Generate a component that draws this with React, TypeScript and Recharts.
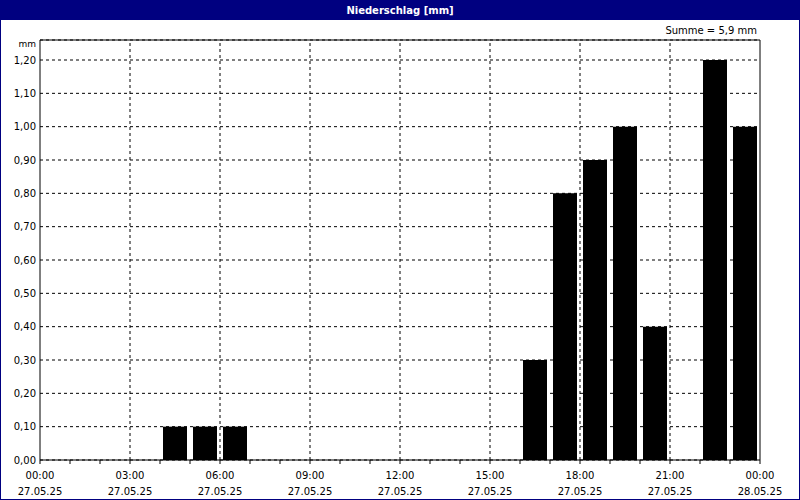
import React from "react";
import { BarChart, Bar, XAxis, YAxis, CartesianGrid, ReferenceLine } from "recharts";

const hours = [0, 1, 2, 3, 4, 5, 6, 7, 8, 9, 10, 11, 12, 13, 14, 15, 16, 17, 18, 19, 20, 21, 22, 23];
const rain = [0, 0, 0, 0, 0.1, 0.1, 0.1, 0, 0, 0, 0, 0, 0, 0, 0, 0, 0.3, 0.8, 0.9, 1.0, 0.4, 0, 1.2, 1.0];
const xTicks = [0, 1, 2, 3, 4, 5, 6, 7, 8, 9, 10, 11, 12, 13, 14, 15, 16, 17, 18, 19, 20, 21, 22, 23, 24];
const xLabelTicks = [0, 3, 6, 9, 12, 15, 18, 21, 24];
const xTimeLabels = ["00:00", "03:00", "06:00", "09:00", "12:00", "15:00", "18:00", "21:00", "00:00"];
const xDateLabels = ["27.05.25", "27.05.25", "27.05.25", "27.05.25", "27.05.25", "27.05.25", "27.05.25", "27.05.25", "28.05.25"];
const yTicks = [0, 0.1, 0.2, 0.3, 0.4, 0.5, 0.6, 0.7, 0.8, 0.9, 1.0, 1.1, 1.2];
const gridX = [3, 6, 9, 12, 15, 18, 21];
const title = "Niederschlag [mm]";
const sumLabel = "Summe = 5,9 mm";
const unitLabel = "mm";

const data = hours.map((h, i) => ({ x: h + 0.5, v: rain[i] }));

const FONT = "'DejaVu Sans', sans-serif";

const XTick = (props: any) => {
  const { x, y, payload } = props;
  const idx = xLabelTicks.indexOf(payload.value);
  if (idx < 0) return null;
  return (
    <g>
      <text x={x} y={y + 13} textAnchor="middle" fontSize={10} fontFamily={FONT} fill="#000">
        {xTimeLabels[idx]}
      </text>
      <text x={x} y={y + 29} textAnchor="middle" fontSize={10} fontFamily={FONT} fill="#000">
        {xDateLabels[idx]}
      </text>
    </g>
  );
};

export default function App() {
  return (
    <div
      style={{
        position: "absolute",
        left: 0,
        top: 0,
        width: 800,
        height: 500,
        boxSizing: "border-box",
        border: "1px solid #000080",
        background: "#fff",
        overflow: "hidden",
      }}
    >
      <div style={{ position: "absolute", left: 0, top: 0 }}>
        <BarChart
          width={798}
          height={498}
          data={data}
          margin={{ top: 39, right: 39, left: 0, bottom: 0 }}
        >
          <CartesianGrid horizontal vertical={false} stroke="#000" strokeDasharray="3 3" />
          {gridX.map((g) => (
            <ReferenceLine key={g} x={g} stroke="#000" strokeDasharray="3 3" />
          ))}
          <ReferenceLine y={1.26} stroke="#000" />
          <ReferenceLine x={24} stroke="#000" />
          <XAxis
            dataKey="x"
            type="number"
            domain={[0, 24]}
            ticks={xTicks}
            interval={0}
            height={39}
            tickSize={4}
            tick={<XTick />}
            axisLine={{ stroke: "#000" }}
            tickLine={{ stroke: "#000" }}
          />
          <YAxis
            type="number"
            domain={[0, 1.26]}
            ticks={yTicks}
            interval={0}
            width={39}
            tickLine={false}
            tickSize={0}
            tickMargin={4}
            axisLine={{ stroke: "#000" }}
            tick={{ fontSize: 10, fontFamily: FONT, fill: "#000" }}
            tickFormatter={(v: number) => v.toFixed(2).replace(".", ",")}
          />
          <Bar dataKey="v" fill="#000" barSize={24} isAnimationActive={false} />
        </BarChart>
      </div>
      <div
        style={{
          position: "absolute",
          left: 0,
          top: 0,
          width: 798,
          height: 19,
          background: "#000080",
          color: "#fff",
          fontFamily: FONT,
          fontSize: 10,
          fontWeight: "bold",
          textAlign: "center",
          lineHeight: "19px",
        }}
      >
        {title}
      </div>
      <div
        style={{
          position: "absolute",
          right: 42,
          top: 24,
          fontFamily: FONT,
          fontSize: 10,
          color: "#000",
        }}
      >
        {sumLabel}
      </div>
      <div
        style={{
          position: "absolute",
          right: 763,
          top: 38,
          fontFamily: FONT,
          fontSize: 9,
          color: "#000",
        }}
      >
        {unitLabel}
      </div>
    </div>
  );
}
